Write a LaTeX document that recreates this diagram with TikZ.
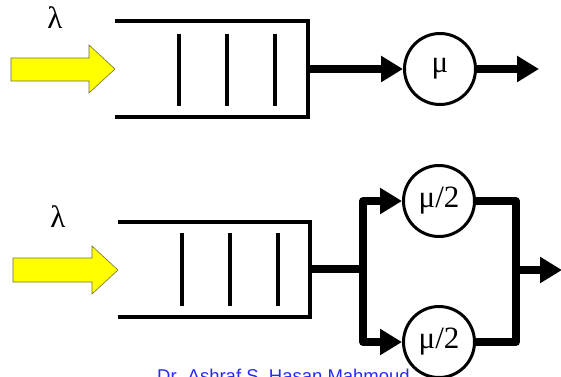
\documentclass[tikz,border=0pt]{standalone}
\usepackage{fontspec}
\setmainfont{Liberation Serif}
\newfontfamily\footfont{Liberation Sans}
\usetikzlibrary{arrows.meta}
\definecolor{footblue}{RGB}{40,40,255}
\definecolor{arrowyellow}{RGB}{255,255,0}
\definecolor{arrowedge}{RGB}{110,110,60}
\begin{document}
\begin{tikzpicture}[x=1pt,y=-1pt,
  queue/.style={line width=3.3pt},
  bar/.style={line width=3.3pt},
  server/.style={circle, draw, line width=3pt, minimum size=71pt, inner sep=0pt, font=\fontsize{31}{33}\selectfont},
  flow/.style={line width=7.5pt, line join=round, -{Triangle[length=22pt,width=25pt]}},
  wire/.style={line width=7.5pt, line join=round},
  feed/.style={fill=arrowyellow, draw=arrowedge, line width=0.6pt},
  rate/.style={font=\fontsize{31}{33}\selectfont, inner sep=0pt}]
\useasboundingbox (0,0) rectangle (561,376);
% footer
\node[anchor=base west, font=\footfont\fontsize{18.5}{21}\selectfont, text=footblue, inner sep=0pt] (foot) at (157,382) {Dr. Ashraf S. Hasan Mahmoud};
% top system
\draw[feed] (11,58) -- (89,58) -- (89,45) -- (115,69) -- (89,93) -- (89,81) -- (11,81) -- cycle;
\node[rate] (lam1) at (55,18) {λ};
\draw[queue] (115,21) -- (308,21) -- (308,117) -- (115,117);
\foreach \x in {179,227,275} \draw[bar] (\x,34) -- (\x,106);
\coordinate (q1) at (308,69);
\node[server] (s1) at (440,69) {μ};
\coordinate (o1) at (539,69);
\draw[flow] (q1) -- (s1);
\draw[flow] (s1) -- (o1);
% bottom system
\draw[feed] (13,258) -- (92,258) -- (92,246) -- (118,270) -- (92,294) -- (92,282) -- (13,282) -- cycle;
\node[rate] (lam2) at (58,217) {λ};
\draw[queue] (118,222) -- (310,222) -- (310,317) -- (118,317);
\foreach \x in {182,230,278} \draw[bar] (\x,233) -- (\x,306);
\coordinate (q2) at (310,269);
\coordinate (j) at (363,269);
\node[server] (s2) at (439,201) {μ/2};
\node[server] (s3) at (439,342) {μ/2};
\coordinate (r) at (516,270);
\coordinate (o2) at (562,270);
\draw[wire] (q2) -- (j);
\draw[flow] (j) |- (s2);
\draw[flow] (j) |- (s3);
\draw[wire] (s2) -| (r);
\draw[wire] (s3) -| (r);
\draw[flow] (r) -- (o2);
\end{tikzpicture}
\end{document}
